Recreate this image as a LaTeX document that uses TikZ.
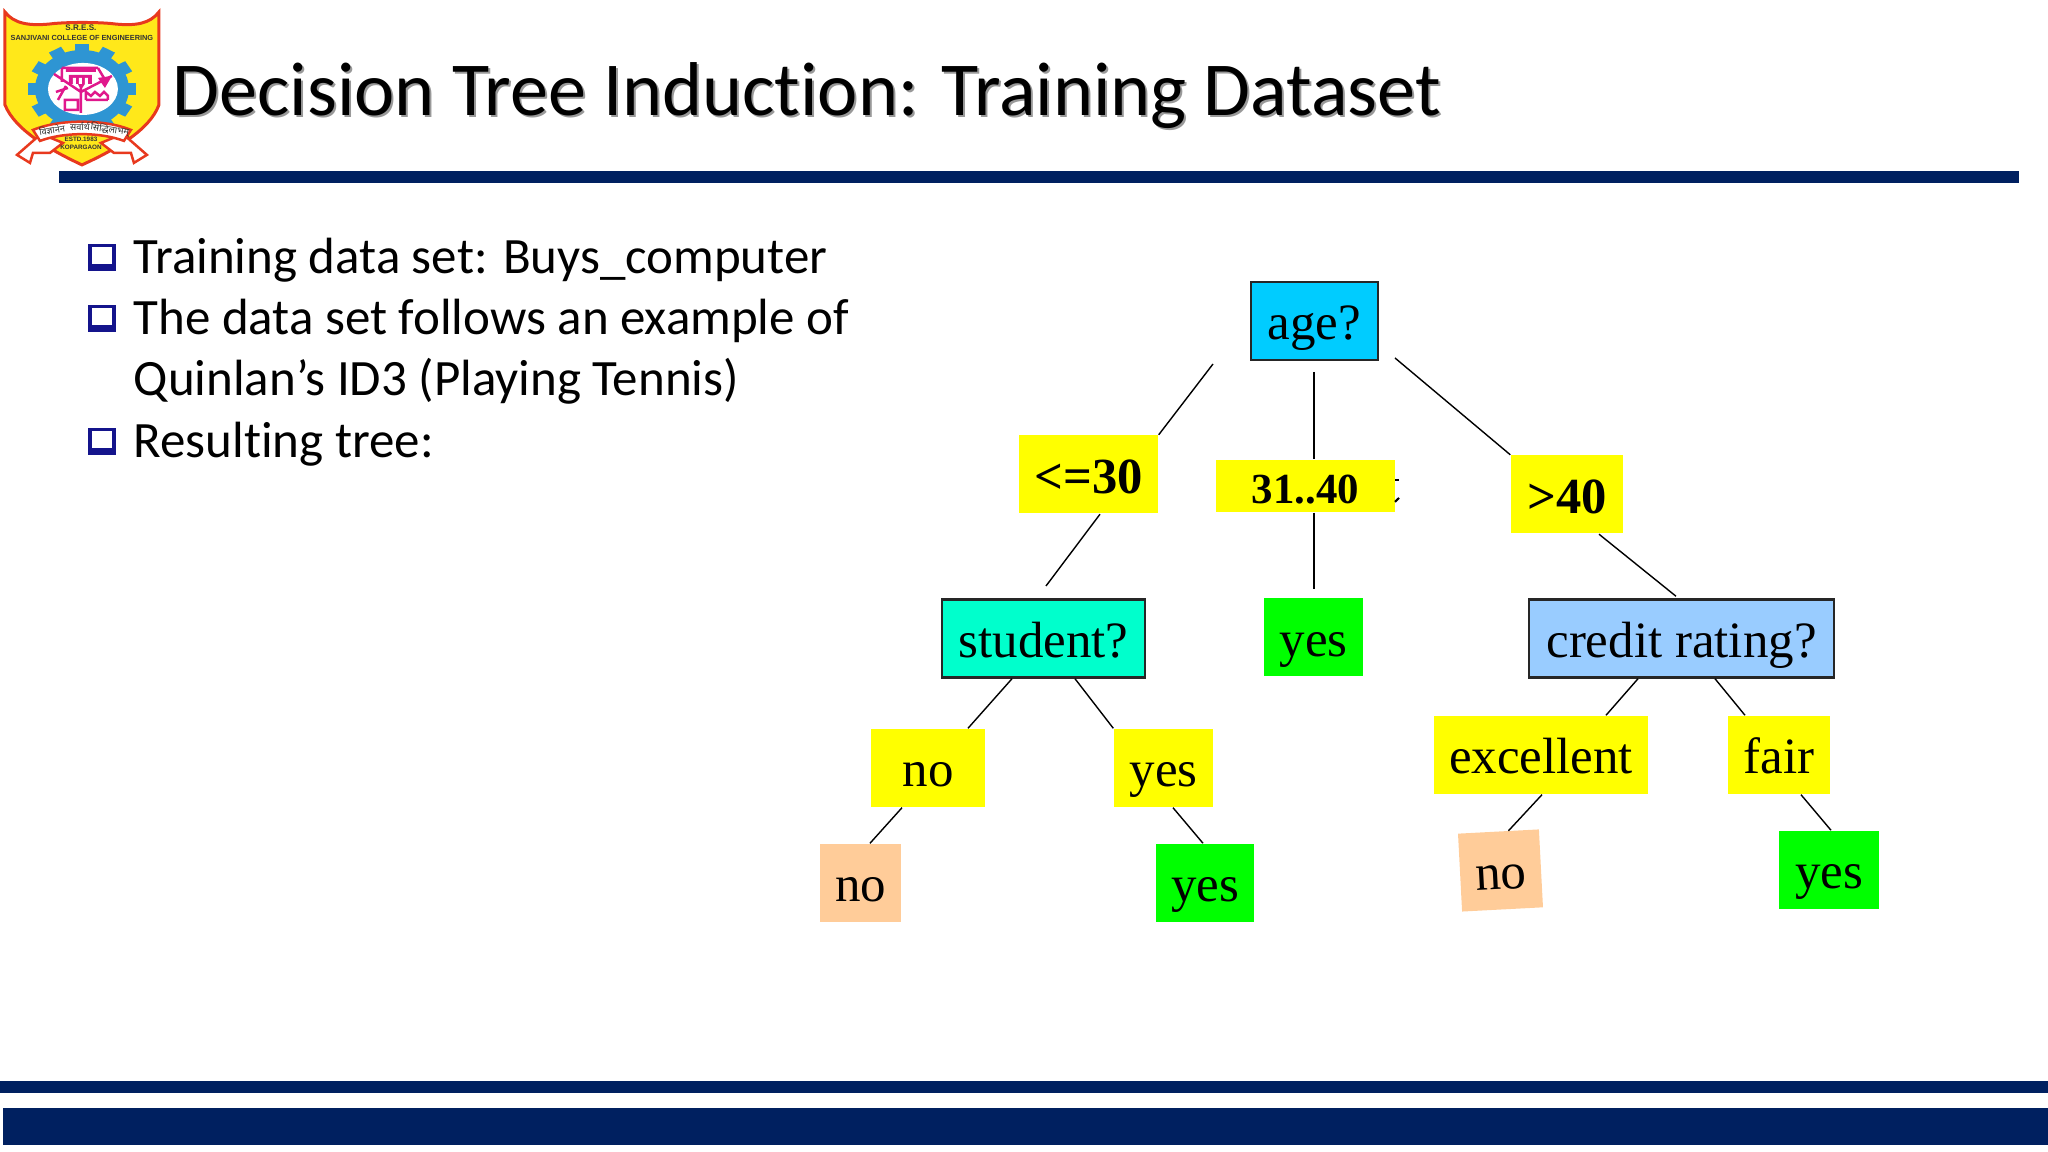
\documentclass[tikz,border=0pt]{standalone}
\usepackage{fontspec}
\setmainfont{Carlito}[Ligatures=NoCommon]
\newfontfamily\treefont{Liberation Serif}
\newfontfamily\logofont{Liberation Sans}
\newfontfamily\devafont[Script=Devanagari]{Noto Sans}
\definecolor{navy}{HTML}{002060}
\definecolor{bulletblue}{HTML}{14148C}
\definecolor{rootblue}{HTML}{00CCFF}
\definecolor{testaqua}{HTML}{00FFCC}
\definecolor{testblue}{HTML}{99CCFF}
\definecolor{labelyellow}{HTML}{FFFF00}
\definecolor{leafgreen}{HTML}{00FF00}
\definecolor{leafpeach}{HTML}{FFCC99}
\definecolor{logored}{HTML}{E8391E}
\definecolor{logoyellow}{HTML}{FFE81A}
\definecolor{logoblue}{HTML}{2E95D3}
\definecolor{logopink}{HTML}{E0188C}
\tikzset{
	treebox/.style={inner sep=0pt, text depth=.2cm, text height=.58cm, font=\treefont\fontsize{14.5}{17}\selectfont},
	testbox/.style={treebox, draw=black!85, line width=.7pt},
	edgelabel/.style={treebox, fill=labelyellow},
	itemtext/.style={anchor=base west, inner sep=0pt, font=\fontsize{14.5}{17}\selectfont},
	logotext/.style={inner sep=0pt, text=black!80, font=\logofont\bfseries\fontsize{2.1}{3}\selectfont}
}
\begin{document}
\begin{tikzpicture}
	\useasboundingbox (0,0) rectangle (20.48,11.52);
	\fill[navy] (0.59,9.69) rectangle (20.19,9.81);
	\fill[navy] (0,0.59) rectangle (20.48,0.71);
	\fill[navy] (0.03,0.07) rectangle (20.48,0.44);
	\node[anchor=base west, inner sep=0pt, text=black!40, font=\fontsize{21.7}{26}\selectfont] (titleshadow) at (1.74,10.34) {Decision Tree Induction: Training Dataset};
	\node[anchor=base west, inner sep=0pt, font=\fontsize{21.7}{26}\selectfont] (title) at (1.72,10.36) {Decision Tree Induction: Training Dataset};
	\foreach \y in {9.08,8.47,7.24} {
		\fill[bulletblue] (0.88,\y) rectangle (1.16,\y-0.27);
		\fill[white] (0.92,\y-0.03) rectangle (1.12,\y-0.2);
	}
	\node[itemtext] (item1) at (1.33,8.78) {Training data set: Buys\_computer};
	\node[itemtext] (item2) at (1.33,8.17) {The data set follows an example of};
	\node[itemtext] (item3) at (1.33,7.56) {Quinlan’s ID3 (Playing Tennis)};
	\node[itemtext] (item4) at (1.33,6.94) {Resulting tree:};
	\begin{scope}[x=.01cm, y=-.01cm, shift={(0cm,11.52cm)}]
		\draw[fill=logoyellow, draw=logored, line width=.03cm] (5,12) .. controls (14,24) and (30,26) .. (50,24) .. controls (65,22) and (100,22) .. (115,24) .. controls (135,26) and (150,24) .. (159,12) -- (159,105) .. controls (150,130) and (115,150) .. (82,165) .. controls (50,150) and (15,130) .. (5,105) -- cycle;
		\foreach \a in {0,30,...,330}
			\fill[logoblue, shift={(82,89)}, yscale=.84, rotate=\a] (-7,-54) rectangle (7,-38);
		\fill[logoblue] (82,89) ellipse (47 and 39);
		\fill[white] (83,89) ellipse (35 and 26);
		\draw[logopink, line width=.7pt] (62,68) -- (98,68) (62,68) -- (62,82) (98,68) -- (104,78) (54,74) -- (81,92) (81,88) -- (81,113) (112,76) -- (81,92) (86,100) -- (108,100) (86,100) -- (86,92) -- (91,96) -- (95,92) -- (100,96) -- (104,92) -- (108,96) -- (108,100) (65,100) rectangle (78,110) (56,92) -- (68,88) (58,100) -- (66,86);
		\fill[logopink] (66,69) rectangle (96,72) (69,75) rectangle (92,84) (98,78) -- (112,76) -- (105,88) -- cycle (78,84) -- (85,84) -- (81,90) -- cycle;
		\fill[white] (73,78) rectangle (76,84) (79,78) rectangle (82,84) (85,78) rectangle (88,84);
		\draw[fill=white, draw=logored, line width=.025cm] (41,134) -- (17,155) -- (30,163) -- (33,153) -- (50,153) -- (63,143) -- cycle;
		\draw[fill=white, draw=logored, line width=.025cm] (123,134) -- (147,155) -- (134,163) -- (131,153) -- (114,153) -- (101,143) -- cycle;
		\draw[fill=white, draw=logored, line width=.025cm] (33,130) .. controls (60,119) and (104,119) .. (131,130) -- (124,141) .. controls (100,132) and (64,132) .. (40,141) -- cycle;
		\node[logotext, font=\logofont\bfseries\fontsize{2.3}{3}\selectfont] (logosres) at (81,28) {S.R.E.S.};
		\node[logotext] (logocollege) at (82,38) {SANJIVANI COLLEGE OF ENGINEERING};
		\node[logotext, font=\devafont\fontsize{2.6}{4}\selectfont, rotate=9] (logomotto1) at (52,130) {विज्ञानेन};
		\node[logotext, font=\devafont\fontsize{2.6}{4}\selectfont] (logomotto2) at (80,127) {सर्वार्थ};
		\node[logotext, font=\devafont\fontsize{2.6}{4}\selectfont, rotate=-9] (logomotto3) at (110,130) {सिद्धिलाभम्};
		\node[logotext, font=\logofont\bfseries\fontsize{1.8}{2}\selectfont] (logoestd) at (81,139) {ESTD.1983};
		\node[logotext, font=\logofont\bfseries\fontsize{1.8}{2}\selectfont] (logoplace) at (81,147) {KOPARGAON};
	\end{scope}
	\node[testbox, fill=rootblue, minimum width=1.27cm] (age) at (13.145,8.31) {age?};
	\node[edgelabel, minimum width=1.39cm, font=\treefont\bfseries\fontsize{14.4}{17}\selectfont] (le30) at (10.885,6.775) {<=30};
	\node[edgelabel, minimum width=1.79cm, text depth=.08cm, text height=.44cm, font=\treefont\bfseries\fontsize{12.2}{14}\selectfont] (mid) at (13.055,6.66) {31..40};
	\node[edgelabel, minimum width=1.12cm, font=\treefont\bfseries\fontsize{14.4}{17}\selectfont] (gt40) at (15.67,6.575) {>40};
	\node[testbox, fill=testaqua, minimum width=2.03cm] (student) at (10.435,5.135) {student?};
	\node[treebox, fill=leafgreen, minimum width=.99cm] (midyes) at (13.135,5.145) {yes};
	\node[testbox, fill=testblue, minimum width=3.05cm] (credit) at (16.815,5.135) {credit rating?};
	\node[edgelabel, minimum width=1.14cm] (stuno) at (9.28,3.84) {no};
	\node[edgelabel, minimum width=.99cm] (stuyes) at (11.635,3.84) {yes};
	\node[edgelabel, minimum width=2.14cm] (excellent) at (15.41,3.97) {excellent};
	\node[edgelabel, minimum width=1.02cm] (fair) at (17.79,3.97) {fair};
	\node[treebox, fill=leafpeach, minimum width=.81cm] (leafno) at (8.605,2.69) {no};
	\node[treebox, fill=leafgreen, minimum width=.98cm] (leafyes) at (12.05,2.69) {yes};
	\node[treebox, fill=leafpeach, minimum width=.81cm, rotate=3] (excno) at (15.005,2.815) {no};
	\node[treebox, fill=leafgreen, minimum width=1cm] (fairyes) at (18.29,2.82) {yes};
	\coordinate (ageleft) at (12.13,7.88);
	\coordinate (agemid) at (13.14,7.8);
	\coordinate (ageright) at (13.95,7.94);
	\coordinate (stutop) at (10.46,5.66);
	\coordinate (yestop) at (13.14,5.63);
	\draw (ageleft) -- (le30.north east);
	\draw ([xshift=.115cm]le30.south) -- (stutop);
	\draw (agemid) -- (agemid |- mid.north);
	\draw (agemid |- mid.south) -- (yestop);
	\draw (ageright) -- (gt40.north west);
	\draw ([xshift=.32cm]gt40.south) -- ([xshift=-.055cm, yshift=.02cm]credit.north);
	\draw ([xshift=-.315cm]student.south) -- ([xshift=.4cm]stuno.north);
	\draw ([xshift=.315cm]student.south) -- (stuyes.north west);
	\draw ([xshift=-.26cm]stuno.south) -- ([xshift=.095cm]leafno.north);
	\draw ([xshift=.095cm]stuyes.south) -- ([xshift=-.02cm]leafyes.north);
	\draw ([xshift=-.435cm]credit.south) -- ([xshift=.65cm]excellent.north);
	\draw ([xshift=.335cm]credit.south) -- ([xshift=-.34cm]fair.north);
	\draw ([xshift=.01cm]excellent.south) -- ([xshift=.1cm]excno.north);
	\draw ([xshift=.22cm]fair.south) -- ([xshift=.02cm]fairyes.north);
	\draw[line width=.6pt] (13.95,6.72) -- (13.99,6.72);
	\draw[line width=.6pt] (13.95,6.5) -- (13.99,6.54);
\end{tikzpicture}
\end{document}
